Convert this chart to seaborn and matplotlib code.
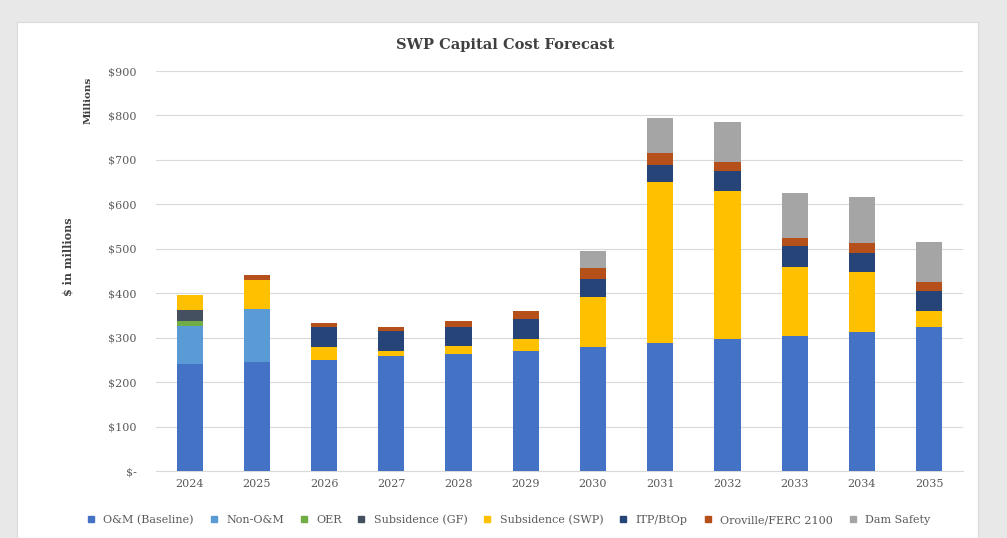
import seaborn as sns
import matplotlib.pyplot as plt
import matplotlib.patches as mpatches
from matplotlib.lines import Line2D
import pandas as pd
import numpy as np

# values ($ millions)
years = ["2024", "2025", "2026", "2027", "2028", "2029",
         "2030", "2031", "2032", "2033", "2034", "2035"]
om_baseline = [240, 245, 250, 259, 263, 270, 280, 287, 296, 304, 313, 325]
non_om = [87, 119, 0, 0, 0, 0, 0, 0, 0, 0, 0, 0]
oer = [11, 0, 0, 0, 0, 0, 0, 0, 0, 0, 0, 0]
subsidence_gf = [24, 0, 0, 0, 0, 0, 0, 0, 0, 0, 0, 0]
subsidence_swp = [34, 66, 29, 11, 18, 26, 111, 364, 333, 156, 135, 36]
itp_btop = [0, 0, 45, 44, 43, 46, 40, 38, 47, 46, 43, 43]
oroville_ferc = [0, 11, 10, 9, 13, 17, 25, 26, 20, 18, 23, 22]
dam_safety = [0, 0, 0, 0, 0, 0, 40, 79, 90, 102, 103, 90]

series = ["O&M (Baseline)", "Non-O&M", "OER", "Subsidence (GF)",
          "Subsidence (SWP)", "ITP/BtOp", "Oroville/FERC 2100", "Dam Safety"]
colors = ["#4472C4", "#5B9BD5", "#70AD47", "#44505F",
          "#FFC000", "#264478", "#B5501A", "#A5A5A5"]

df = pd.DataFrame({
    "Year": years,
    "O&M (Baseline)": om_baseline,
    "Non-O&M": non_om,
    "OER": oer,
    "Subsidence (GF)": subsidence_gf,
    "Subsidence (SWP)": subsidence_swp,
    "ITP/BtOp": itp_btop,
    "Oroville/FERC 2100": oroville_ferc,
    "Dam Safety": dam_safety,
})
cum = df[series].cumsum(axis=1)
cum["Year"] = df["Year"]

sns.set_style("white")
plt.rcParams["font.family"] = ["DejaVu Serif"]

fig = plt.figure(figsize=(10.07, 5.38), dpi=100)
fig.patch.set_facecolor("#E8E8E8")
# white chart panel behind the axes
fig.patches.append(mpatches.Rectangle((17 / 1007, 0), 961 / 1007, 1 - 22 / 538,
                                      transform=fig.transFigure,
                                      facecolor="white", edgecolor="#D9D9D9",
                                      lw=0.8, zorder=-5))
ax = fig.add_axes([0.155, 0.1245, 0.801, 0.7435])
ax.set_zorder(2)
ax.set_facecolor("white")

# stacked bars: draw cumulative totals from the top layer down
for name, col in reversed(list(zip(series, colors))):
    sns.barplot(data=cum, x="Year", y=name, color=col, width=0.39,
                saturation=1, linewidth=0, ax=ax, zorder=3)

ax.set_ylim(0, 900)
ax.set_xlim(-0.5, 11.5)
ticks = np.arange(0, 901, 100)
ax.set_yticks(ticks)
ax.set_yticklabels(["$-" if t == 0 else f"${t:,}" for t in ticks])
ax.yaxis.grid(True, color="#D9D9D9", lw=0.8, zorder=0)
ax.set_axisbelow(True)
for s in ["top", "right", "left"]:
    ax.spines[s].set_visible(False)
ax.spines["bottom"].set_color("#D9D9D9")
ax.tick_params(axis="both", length=0, labelsize=8, colors="#595959", pad=6)
ax.tick_params(axis="y", pad=14)
ax.set_xlabel("")
ax.set_ylabel("")

fig.text(505 / 1007, 1 - 45 / 538, "SWP Capital Cost Forecast", ha="center",
         va="center", fontsize=10.5, fontweight="bold", color="#404040")
fig.text(68 / 1007, 1 - 257 / 538, "$ in millions", rotation=90, ha="center",
         va="center", fontsize=8, fontweight="bold", color="#404040")
fig.text(88 / 1007, 1 - 100 / 538, "Millions", rotation=90, ha="center",
         va="center", fontsize=7.5, fontweight="bold", color="#404040")

handles = [Line2D([], [], marker="s", ls="", color=c, markersize=5) for c in colors]
fig.legend(handles, series, loc="center", bbox_to_anchor=(505 / 1007, 1 - 520 / 538),
           ncol=8, frameon=False, fontsize=8, handletextpad=0.1,
           columnspacing=0.8, labelcolor="#595959")

plt.savefig("out.png", dpi=100)
plt.close()
